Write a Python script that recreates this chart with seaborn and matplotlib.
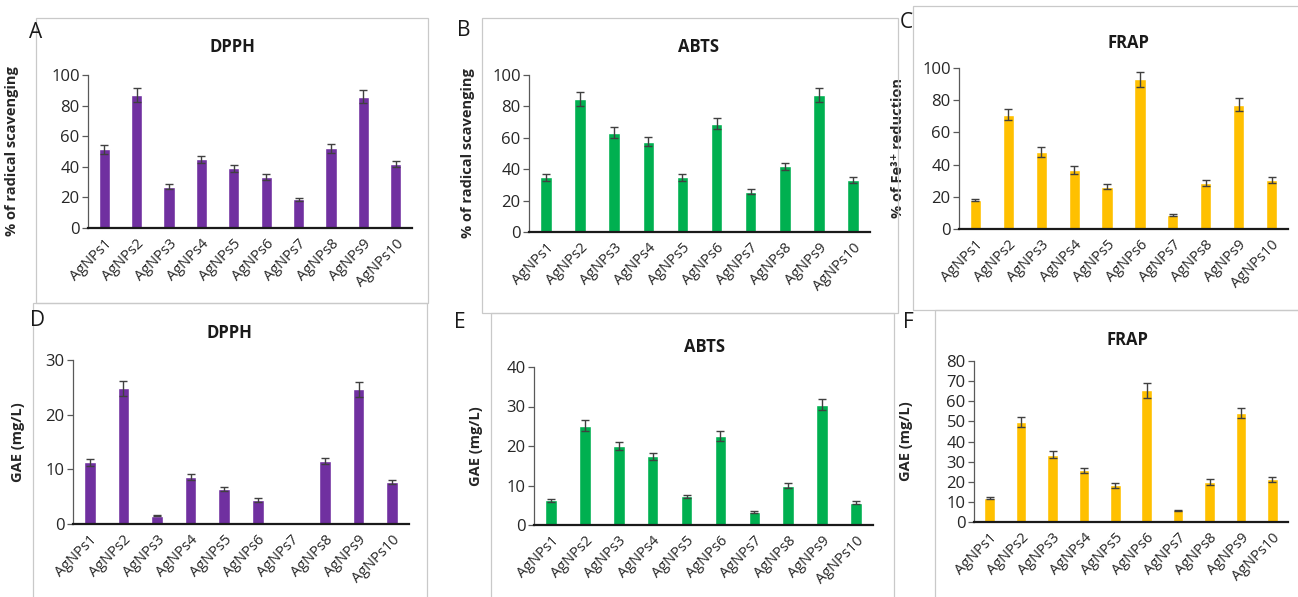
import matplotlib.pyplot as plt
import matplotlib.patches as mpatches
import seaborn as sns

samples = ["AgNPs1", "AgNPs2", "AgNPs3", "AgNPs4", "AgNPs5",
           "AgNPs6", "AgNPs7", "AgNPs8", "AgNPs9", "AgNPs10"]

# % activity (top row)
dpph_pct = [51.5, 86.8, 27.0, 44.8, 38.9, 33.2, 18.7, 52.0, 85.8, 42.1]
dpph_pct_err = [3.0, 4.4, 1.5, 2.5, 2.0, 2.0, 1.0, 3.0, 4.4, 2.0]
abts_pct = [34.8, 84.7, 63.3, 57.6, 34.8, 68.9, 25.7, 41.8, 87.2, 33.1]
abts_pct_err = [2.0, 4.5, 3.7, 3.0, 2.0, 3.4, 1.5, 2.1, 4.5, 1.7]
frap_pct = [18.0, 71.0, 48.0, 36.6, 26.2, 93.0, 8.7, 28.7, 77.3, 30.4]
frap_pct_err = [0.9, 3.6, 3.0, 2.5, 1.5, 4.7, 0.5, 1.7, 4.1, 1.6]

# GAE mg/L (bottom row)
dpph_gae = [11.3, 24.8, 1.5, 8.6, 6.45, 4.4, 0.0, 11.5, 24.65, 7.65]
dpph_gae_err = [0.6, 1.4, 0.1, 0.55, 0.4, 0.3, 0.0, 0.6, 1.35, 0.4]
abts_gae = [6.3, 25.1, 20.0, 17.4, 7.3, 22.6, 3.3, 10.0, 30.5, 5.6]
abts_gae_err = [0.4, 1.4, 1.0, 0.85, 0.4, 1.25, 0.25, 0.65, 1.5, 0.4]
frap_gae = [11.9, 49.7, 33.4, 25.7, 18.2, 65.4, 5.8, 19.9, 54.3, 21.2]
frap_gae_err = [0.7, 2.7, 1.8, 1.3, 1.1, 3.6, 0.4, 1.3, 2.5, 1.2]

PURPLE = "#7030A0"
GREEN = "#00B050"
YELLOW = "#FFC000"
TEXT = "#262626"

sns.set_style("white")
plt.rcParams["font.family"] = ["Open Sans", "DejaVu Sans"]

W, H = 1298, 597
fig = plt.figure(figsize=(W / 100, H / 100), dpi=100)

# light grey frames of the pasted panels
frames = [(36, 18, 428, 303), (482, 18, 898, 313), (913, 6, 1302, 310),
          (33, 303, 427, 602), (491, 313, 894, 602), (935, 310, 1302, 602)]
for fx0, fy0, fx1, fy1 in frames:
    fig.add_artist(mpatches.Rectangle(
        (fx0 / W, 1 - fy1 / H), (fx1 - fx0) / W, (fy1 - fy0) / H,
        transform=fig.transFigure, fill=False, ec="#c9c9c9", lw=0.9))

panels = [
    # letter, title, values, errors, color, ylabel, ymax, ystep,
    # axes box (x0, x1, ytop, y0), title pos, letter pos, ylabel x
    ("A", "DPPH", dpph_pct, dpph_pct_err, PURPLE, "% of radical scavenging",
     100, 20, (88, 412, 75, 228), (232, 47), (36, 32), 19),
    ("B", "ABTS", abts_pct, abts_pct_err, GREEN, "% of radical scavenging",
     100, 20, (529, 870, 75, 232), (699, 47), (464, 31), 475),
    ("C", "FRAP", frap_pct, frap_pct_err, YELLOW, "% of Fe\u00b3\u207a reduction",
     100, 20, (959, 1288, 68, 229), (1128, 43), (906, 22), 905),
    ("D", "DPPH", dpph_gae, dpph_gae_err, PURPLE, "GAE (mg/L)",
     30, 10, (73, 409, 360, 524), (229, 333), (37, 321), 25),
    ("E", "ABTS", abts_gae, abts_gae_err, GREEN, "GAE (mg/L)",
     40, 10, (534, 873, 367, 525), (705, 347), (460, 323), 483),
    ("F", "FRAP", frap_gae, frap_gae_err, YELLOW, "GAE (mg/L)",
     80, 10, (974, 1288, 361, 522), (1127, 340), (908, 323), 913),
]

for (letter, title, vals, errs, color, ylabel, ymax, ystep,
     box, tpos, lpos, ylx) in panels:
    x0, x1, ytop, y0 = box
    ax = fig.add_axes([x0 / W, 1 - y0 / H, (x1 - x0) / W, (y0 - ytop) / H])

    sns.barplot(x=samples, y=vals, color=color, saturation=1, width=0.34,
                errorbar=None, ax=ax)
    centers = [p.get_x() + p.get_width() / 2 for p in ax.patches]
    ax.errorbar(centers, vals, yerr=errs, fmt="none", ecolor="#404040",
                elinewidth=1, capsize=3, capthick=1)

    ax.set_ylim(0, ymax)
    ax.set_yticks(range(0, ymax + 1, ystep))
    ax.set_xlim(-0.5, len(samples) - 0.5)

    ax.spines[["top", "right"]].set_visible(False)
    ax.spines["left"].set_color("#595959")
    ax.spines["left"].set_linewidth(0.9)
    ax.spines["bottom"].set_color("#1a1a1a")
    ax.spines["bottom"].set_linewidth(1.6)

    ax.tick_params(axis="y", length=4, width=0.9, color="#595959",
                   labelsize=12, labelcolor=TEXT, pad=2, left=True)
    ax.tick_params(axis="x", length=0, labelsize=10.5, labelcolor=TEXT,
                   pad=6)
    for lbl in ax.get_xticklabels():
        lbl.set_rotation(45)
        lbl.set_ha("right")
        lbl.set_rotation_mode("anchor")

    ax.set_xlabel("")
    ax.set_ylabel(ylabel, fontsize=10.5, fontweight="bold", color=TEXT)
    ax.yaxis.set_label_coords((ylx - x0) / (x1 - x0), 0.5)

    ax.text((tpos[0] - x0) / (x1 - x0), (y0 - tpos[1]) / (y0 - ytop), title,
            transform=ax.transAxes, ha="center", va="center",
            fontsize=12, fontweight="bold", color="#1a1a1a")

    fig.text(lpos[0] / W, 1 - lpos[1] / H, letter, ha="center", va="center",
             fontsize=15, color="#1a1a1a")

fig.savefig("out.png", dpi=100)
plt.close(fig)
